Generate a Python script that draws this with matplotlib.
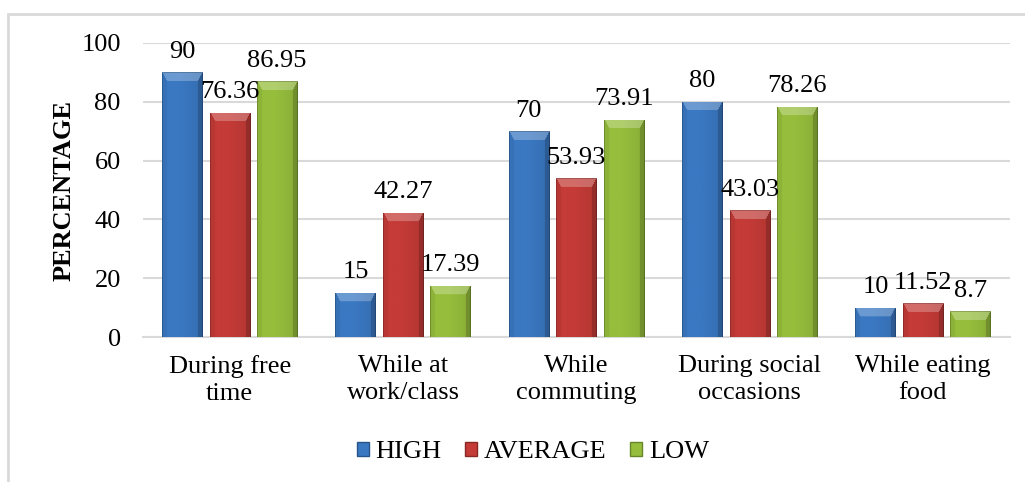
import numpy as np
import matplotlib
matplotlib.use("Agg")
import matplotlib.pyplot as plt
from matplotlib.colors import to_rgb
from matplotlib.patches import Patch, Rectangle

categories = ["During free\ntime", "While at\nwork/class", "While\ncommuting",
              "During social\noccasions", "While eating\nfood"]
series = ["HIGH", "AVERAGE", "LOW"]
high = [90, 15, 70, 80, 10]
average = [76.36, 42.27, 53.93, 43.03, 11.52]
low = [86.95, 17.39, 73.91, 78.26, 8.7]
labels = [["90", "15", "70", "80", "10"],
          ["76.36", "42.27", "53.93", "43.03", "11.52"],
          ["86.95", "17.39", "73.91", "78.26", "8.7"]]
colors = ["#3A78C2", "#C43B37", "#96BE3C"]

plt.rcParams["font.family"] = ["Liberation Serif", "DejaVu Serif"]
FS = 19

fig = plt.figure(figsize=(10.25, 4.82), dpi=100)
ax = fig.add_axes([0.1395, 0.3008, 0.8455, 0.61])

x = np.arange(len(categories))
step = 0.274
width = 0.231
ax.set_xlim(-0.5, len(categories) - 0.5)
ax.set_ylim(0, 100)


def bevel_image(color, wpx, hpx, bs=5, bt=9):
    # flat fill, lighter top bevel, darker side edges
    base = np.array(to_rgb(color))
    yy, xx = np.mgrid[0:hpx, 0:wpx]
    img = np.ones((hpx, wpx, 3)) * base
    shade = 1.0 - 0.16 * np.clip((xx + 0.5) / wpx - 0.45, 0, None)
    img *= shade[..., None]
    # scale the top distance so the top bevel is taller than the sides
    dl, dr, dt = xx / bs, (wpx - 1 - xx) / bs, yy / bt
    dmin = np.minimum(np.minimum(dl, dr), dt)
    inb = dmin < 1
    top = inb & (dt == dmin)
    left = inb & (dl == dmin) & ~top
    right = inb & (dr == dmin) & ~top
    img[top] = img[top] + (1 - img[top]) * 0.25
    img[left] = img[left] * 0.94
    img[right] = img[right] * 0.82
    edge = (xx < 1) | (xx > wpx - 2) | (yy < 1)
    img[edge] = img[edge] * 0.8
    return np.clip(img, 0, 1)


for i, (vals, col) in enumerate(zip([high, average, low], colors)):
    pos = x + (i - 1) * step
    bars = ax.bar(pos, vals, width, color=col, zorder=3, linewidth=0)
    for rect, v, lab in zip(bars, vals, labels[i]):
        x0, y0 = rect.get_x(), rect.get_y()
        w, h = rect.get_width(), rect.get_height()
        (px0, py0), (px1, py1) = ax.transData.transform([(x0, y0), (x0 + w, y0 + h)])
        wpx, hpx = max(int(round(px1 - px0)), 2), max(int(round(py1 - py0)), 2)
        im = ax.imshow(bevel_image(col, wpx, hpx), extent=[x0, x0 + w, y0, y0 + h],
                       aspect="auto", interpolation="bilinear", zorder=4)
        im.set_clip_path(rect)
        ax.annotate(lab, (rect.get_x() + w / 2, v), xytext=(0, 10.5),
                    textcoords="offset points", ha="center", va="baseline",
                    fontsize=FS, zorder=6, annotation_clip=False)

ax.set_xlim(-0.5, len(categories) - 0.5)
ax.set_ylim(0, 100)
ax.set_yticks(range(0, 101, 20))
ax.set_xticks(x)
ax.set_xticklabels(categories, fontsize=FS, linespacing=1.3)
ax.tick_params(axis="y", labelsize=FS, length=0, pad=16)
ax.tick_params(axis="x", length=0, pad=13)
ax.grid(axis="y", color="#D9D9D9", linewidth=1.5, zorder=0)
ax.set_axisbelow(True)
for s in ["top", "right", "left"]:
    ax.spines[s].set_visible(False)
ax.spines["bottom"].set_color("#D9D9D9")
ax.spines["bottom"].set_linewidth(1.5)
ax.set_ylabel("PERCENTAGE", fontsize=FS, fontweight="bold", labelpad=4)

handles = [Patch(facecolor=c, edgecolor=np.array(to_rgb(c)) * 0.7, linewidth=1) for c in colors]
fig.legend(handles, series, loc="center", bbox_to_anchor=(0.52, 0.062), ncol=3,
           frameon=False, fontsize=FS, handlelength=0.45, handleheight=0.45,
           handletextpad=0.25, columnspacing=0.9)

# outer chart frame
fig.patches.append(Rectangle((8 / 1025, -0.1), 1.2, 1.0 - 14 / 482 + 0.1,
                             transform=fig.transFigure, fill=False,
                             edgecolor="#D9D9D9", linewidth=2))

fig.savefig("out.png", dpi=100)
